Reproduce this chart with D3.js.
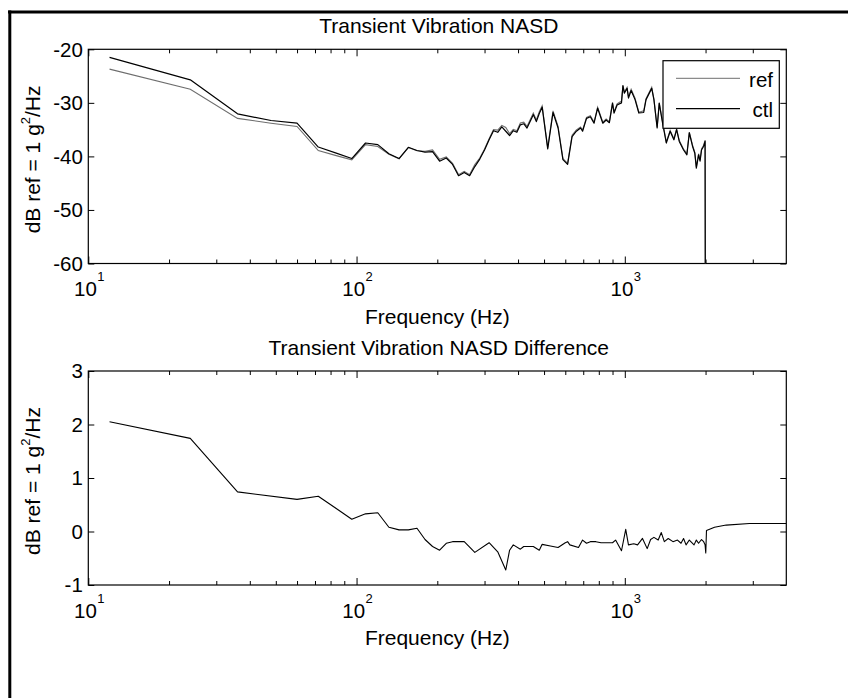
<!DOCTYPE html>
<html><head><meta charset="utf-8">
<script src="https://cdn.jsdelivr.net/npm/d3@7"></script>
<style>
html,body{margin:0;padding:0;background:#fff;}
svg{display:block;font-family:"Liberation Sans",Arial,Helvetica,sans-serif;}
</style></head>
<body><svg id="chart" width="848" height="698"></svg>
<script>
// ---------------- data ----------------
const titles = ["Transient Vibration NASD", "Transient Vibration NASD Difference"];
const xLabel = "Frequency (Hz)";
const yLabelMain = "dB ref = 1 g", yLabelSup = "2", yLabelEnd = "/Hz";
const legendLabels = ["ref", "ctl"];
const xMajorTicks = [10, 100, 1000];
const xTickExp = ["1", "2", "3"];
const xMinorTicks = [20,30,40,50,60,70,80,90,200,300,400,500,600,700,800,900,2000,3000];
const topYTicks = [-60, -50, -40, -30, -20];
const botYTicks = [-1, 0, 1, 2, 3];

const topFreq = [12,24,36,48,60,72,84,96,108,120,132,144,156,168,180,192,204,216,228,240,252,264,276,288,300,312,324,336,348,360,372,384,396,408,420,432,456,468,480,492,516,540,564,588,612,636,660,684,696,720,744,768,792,828,852,876,900,912,936,972,984,996,1020,1032,1056,1092,1128,1176,1200,1260,1284,1320,1344,1380,1428,1476,1524,1560,1596,1656,1704,1740,1788,1824,1848,1884,1908,1932,1968,1992,2004];
const ctlVals = [-21.5,-25.7,-32.05,-33.3,-33.8,-38.25,-39.4,-40.4,-37.5,-37.8,-39.5,-40.4,-38.3,-38.9,-39.2,-39.1,-40.9,-40.3,-41.5,-43.6,-43.0,-43.6,-41.9,-40.5,-38.8,-36.9,-35.2,-35.5,-34.5,-35.3,-36.1,-35.2,-35.5,-34.1,-33.9,-34.7,-32.2,-33.5,-32.0,-30.8,-38.6,-31.8,-34.7,-40.6,-41.5,-36.3,-35.3,-34.7,-35.3,-32.9,-32.6,-33.8,-31.0,-33.8,-33.2,-33.7,-30.1,-31.9,-30.4,-30.0,-26.8,-28.2,-27.3,-29.1,-27.7,-29.4,-31.9,-31.8,-29.4,-27.3,-29.4,-34.7,-30.1,-33.5,-37.5,-35.3,-36.9,-35.0,-37.2,-38.8,-39.7,-35.6,-38.1,-39.4,-42.2,-39.7,-40.9,-38.8,-38.1,-37.2,-120];
const refVals = [-23.7,-27.45,-32.9,-33.8,-34.4,-38.9,-39.85,-40.65,-37.8,-38.15,-39.6,-40.45,-38.35,-38.95,-39.05,-38.8,-40.55,-40.1,-41.3,-43.4,-42.8,-43.4,-41.5,-40.3,-38.6,-36.7,-35.0,-35.1,-34.2,-34.6,-35.75,-34.95,-35.2,-33.75,-33.6,-34.4,-31.9,-33.2,-31.65,-30.55,-38.35,-31.5,-34.4,-40.4,-41.3,-36.05,-35.05,-34.5,-35.1,-32.7,-32.4,-33.6,-30.8,-33.6,-33.0,-33.5,-29.9,-31.7,-30.2,-29.65,-26.8,-28.0,-27.1,-28.85,-27.45,-29.15,-31.75,-31.5,-29.2,-27.1,-29.3,-34.55,-29.95,-33.3,-37.3,-35.15,-36.7,-34.85,-37.0,-38.65,-39.45,-35.45,-37.85,-39.25,-41.95,-39.5,-40.7,-38.6,-37.9,-36.95,-120];

const diffFreq = [12,24,36,60,72,84,96,108,120,132,144,156,168,180,192,204,216,228,252,276,312,336,360,372,384,408,420,456,480,492,528,564,600,612,624,672,696,720,744,780,816,900,924,972,1008,1032,1080,1116,1164,1212,1248,1284,1332,1368,1404,1452,1512,1572,1620,1656,1692,1740,1812,1848,1884,1932,1968,1992,2004,2016,2160,2388,2916,4000];
const diffVals = [2.05,1.74,0.74,0.60,0.66,0.43,0.23,0.33,0.35,0.08,0.03,0.03,0.06,-0.15,-0.28,-0.35,-0.22,-0.19,-0.19,-0.39,-0.21,-0.38,-0.72,-0.35,-0.25,-0.33,-0.28,-0.28,-0.35,-0.24,-0.27,-0.30,-0.21,-0.19,-0.25,-0.30,-0.16,-0.22,-0.19,-0.19,-0.21,-0.21,-0.16,-0.36,0.04,-0.25,-0.23,-0.25,-0.13,-0.32,-0.15,-0.11,-0.16,-0.02,-0.19,-0.13,-0.19,-0.16,-0.22,-0.13,-0.25,-0.16,-0.25,-0.16,-0.22,-0.15,-0.19,-0.25,-0.40,0.02,0.08,0.12,0.15,0.15];

// ---------------- layout ----------------
const svg = d3.select("#chart");
const FS = 21, FT = 20.5;
const L = 88.3, R = 786.3;
const x = d3.scaleLog().domain([10, 4000]).range([L, R]);

// figure frame (top & left)
svg.append("line").attr("x1", 8).attr("x2", 848).attr("y1", 12).attr("y2", 12)
  .attr("stroke", "#000").attr("stroke-width", 3);
svg.append("line").attr("x1", 9.8).attr("x2", 9.8).attr("y1", 10.5).attr("y2", 698)
  .attr("stroke", "#000").attr("stroke-width", 3);

function drawAxes(cfg) {
  const {top, bottom, y, yTicks, title, id} = cfg;
  const g = svg.append("g");
  svg.append("clipPath").attr("id", id).append("rect")
    .attr("x", L).attr("y", top).attr("width", R - L).attr("height", bottom - top);

  g.append("rect").attr("x", L).attr("y", top).attr("width", R - L).attr("height", bottom - top)
    .attr("fill", "#fff").attr("stroke", "none");

  const tickStyle = sel => { sel.select(".domain").remove(); sel.selectAll("text").remove();
    sel.selectAll("line").attr("stroke", "#000").attr("stroke-width", 1); };

  g.append("g").attr("transform", `translate(0,${bottom})`)
    .call(d3.axisBottom(x).tickValues(xMajorTicks).tickSize(-7).tickSizeOuter(0)).call(tickStyle);
  g.append("g").attr("transform", `translate(0,${bottom})`)
    .call(d3.axisBottom(x).tickValues(xMinorTicks).tickSize(-4).tickSizeOuter(0)).call(tickStyle);
  g.append("g").attr("transform", `translate(0,${top})`)
    .call(d3.axisTop(x).tickValues(xMajorTicks).tickSize(-7).tickSizeOuter(0)).call(tickStyle);
  g.append("g").attr("transform", `translate(0,${top})`)
    .call(d3.axisTop(x).tickValues(xMinorTicks).tickSize(-4).tickSizeOuter(0)).call(tickStyle);
  g.append("g").attr("transform", `translate(${L},0)`)
    .call(d3.axisLeft(y).tickValues(yTicks).tickSize(-6).tickSizeOuter(0)).call(tickStyle);
  g.append("g").attr("transform", `translate(${R},0)`)
    .call(d3.axisRight(y).tickValues(yTicks).tickSize(-6).tickSizeOuter(0)).call(tickStyle);

  g.append("rect").attr("x", L).attr("y", top).attr("width", R - L).attr("height", bottom - top)
    .attr("fill", "none").attr("stroke", "#000").attr("stroke-width", 1.2);

  g.selectAll(".ytl").data(yTicks).enter().append("text")
    .attr("x", L - 5.5).attr("y", d => y(d)).attr("dy", "0.36em")
    .attr("text-anchor", "end").attr("font-size", FT).attr("fill", "#000")
    .text(d => String(d));

  const xt = g.selectAll(".xtl").data(xMajorTicks).enter().append("text")
    .attr("x", d => x(d) + 1).attr("y", bottom + 32.5)
    .attr("text-anchor", "middle").attr("font-size", FT).attr("fill", "#000");
  xt.append("tspan").text("10");
  xt.append("tspan").attr("font-size", 13).attr("dx", 0.5).attr("dy", -15).text((d, i) => xTickExp[i]);

  svg.append("text").attr("x", (L + R) / 2 + 1.5).attr("y", top - 16.5)
    .attr("text-anchor", "middle").attr("font-size", FS).attr("fill", "#000").text(title);
  svg.append("text").attr("x", (L + R) / 2).attr("y", bottom + 60)
    .attr("text-anchor", "middle").attr("font-size", FS).attr("fill", "#000").text(xLabel);
  const cy = (top + bottom) / 2 + 3;
  const yl = svg.append("text").attr("transform", `translate(40,${cy}) rotate(-90)`)
    .attr("text-anchor", "middle").attr("font-size", FS).attr("fill", "#000");
  yl.append("tspan").text(yLabelMain);
  yl.append("tspan").attr("font-size", 13).attr("dy", -10).text(yLabelSup);
  yl.append("tspan").attr("dy", 10).text(yLabelEnd);
  return g;
}

// ---------- top plot ----------
const topT = 49.3, topB = 263.5;
const yTop = d3.scaleLinear().domain([-60, -20]).range([topB, topT]);
drawAxes({top: topT, bottom: topB, y: yTop, yTicks: topYTicks, title: titles[0], id: "clipTop"});

const lineTop = d3.line().x(d => x(d[0])).y(d => yTop(d[1]));
svg.append("path").datum(topFreq.map((f, i) => [f, refVals[i]]))
  .attr("clip-path", "url(#clipTop)")
  .attr("d", lineTop).attr("fill", "none").attr("stroke", "#6e6e6e").attr("stroke-width", 1.1);
svg.append("path").datum(topFreq.map((f, i) => [f, ctlVals[i]]))
  .attr("clip-path", "url(#clipTop)")
  .attr("d", lineTop).attr("fill", "none").attr("stroke", "#000").attr("stroke-width", 1.2)
  .attr("stroke-linejoin", "round");

// legend
const lg = svg.append("g");
lg.append("rect").attr("x", 663).attr("y", 60.7).attr("width", 116.3).attr("height", 67.6)
  .attr("fill", "#fff").attr("stroke", "#000").attr("stroke-width", 1.2);
const legendColors = ["#6e6e6e", "#000"];
const legendY = [78.3, 108.6];
legendLabels.forEach((lab, i) => {
  lg.append("line").attr("x1", 676).attr("x2", 740).attr("y1", legendY[i]).attr("y2", legendY[i])
    .attr("stroke", legendColors[i]).attr("stroke-width", i === 0 ? 1 : 1.2);
  lg.append("text").attr("x", 773).attr("y", legendY[i] + 8.3).attr("text-anchor", "end")
    .attr("font-size", FT).attr("fill", "#000").text(lab);
});

// ---------- bottom plot ----------
const botT = 371, botB = 585;
const yBot = d3.scaleLinear().domain([-1, 3]).range([botB, botT]);
drawAxes({top: botT, bottom: botB, y: yBot, yTicks: botYTicks, title: titles[1], id: "clipBot"});
const lineBot = d3.line().x(d => x(d[0])).y(d => yBot(d[1]));
svg.append("path").datum(diffFreq.map((f, i) => [f, diffVals[i]]))
  .attr("clip-path", "url(#clipBot)")
  .attr("d", lineBot).attr("fill", "none").attr("stroke", "#000").attr("stroke-width", 1.1)
  .attr("stroke-linejoin", "round");
</script>
</body></html>
